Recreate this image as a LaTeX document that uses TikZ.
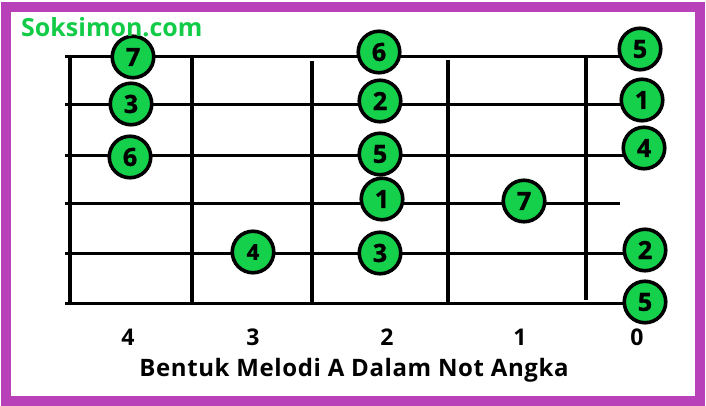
\documentclass[tikz,border=0pt]{standalone}
\usepackage{fontspec}
\setmainfont{Open Sans}
\definecolor{framepurple}{RGB}{184,64,184}
\definecolor{dotgreen}{RGB}{20,208,75}
\definecolor{logogreen}{RGB}{18,204,72}
\tikzset{
  stringline/.style={line width=3pt,black},
  fretline/.style={line width=3.2pt,black},
  dot/.style={circle,draw=black,line width=3.6pt,fill=dotgreen,minimum size=41.5pt,inner sep=0pt,font=\bfseries\fontsize{25}{25}\selectfont\addfontfeatures{FakeBold=1.2}},
  smalldot/.style={dot,font=\bfseries\fontsize{22}{22}\selectfont\addfontfeatures{FakeBold=1.2}},
  fretnum/.style={font=\bfseries\fontsize{23}{23}\selectfont,inner sep=0pt},
}
\begin{document}
\begin{tikzpicture}[x=1pt,y=-1pt]
\useasboundingbox (0,0) rectangle (706,406);
% frame
\draw[framepurple,line width=10pt] (5.5,7.5) rectangle (700,401);
% string end points
\coordinate (l1) at (65,57);  \coordinate (r1) at (625,57);
\coordinate (l2) at (65,105); \coordinate (r2) at (625,105);
\coordinate (l3) at (65,156); \coordinate (r3) at (628,156);
\coordinate (l4) at (65,203); \coordinate (r4) at (620,203);
\coordinate (l5) at (65,253); \coordinate (r5) at (628,253);
\coordinate (l6) at (65,303); \coordinate (r6) at (628,303);
\foreach \i in {1,...,6} {\draw[stringline] (l\i) -- (r\i);}
% frets
\coordinate (f1t) at (70,57);  \coordinate (f1b) at (70,304);
\coordinate (f2t) at (192,57); \coordinate (f2b) at (192,304);
\coordinate (f3t) at (312,61); \coordinate (f3b) at (312,304);
\coordinate (f4t) at (448,60); \coordinate (f4b) at (448,304);
\coordinate (f5t) at (586,57); \coordinate (f5b) at (586,300);
\foreach \i in {1,...,5} {\draw[fretline] (f\i t) -- (f\i b);}
% dots
\node[dot] (a7) at (133,57) {7};
\node[dot] (a3) at (131,104) {3};
\node[dot] (a6) at (130,157) {6};
\node[smalldot] (b4) at (253,252) {4};
\node[dot] (c6) at (379,52) {6};
\node[dot] (c2) at (380,101) {2};
\node[dot] (c5) at (380,154) {5};
\node[dot] (c1) at (382,199) {1};
\node[dot] (c3) at (380,253) {3};
\node[dot] (d7) at (524,201) {7};
\node[dot] (e5) at (640,49) {5};
\node[dot] (e1) at (642,100) {1};
\node[dot] (e4) at (644,148) {4};
\node[dot] (e2) at (645,250) {2};
\node[dot] (e5b) at (645,302) {5};
% fret numbers
\node[fretnum] (n4) at (128,337) {4};
\node[fretnum] (n3) at (253,337) {3};
\node[fretnum] (n2) at (387,337) {2};
\node[fretnum] (n1) at (520,337) {1};
\node[fretnum] (n0) at (637,337) {0};
% texts
\node[font=\bfseries\fontsize{24}{24}\selectfont\addfontfeatures{LetterSpace=2.5},inner sep=0pt] (title) at (354,370) {Bentuk Melodi A Dalam Not Angka};
\node[font=\bfseries\fontsize{25}{25}\selectfont,text=logogreen,inner sep=0pt,anchor=west] (logo) at (21,27) {Soksimon.com};
\end{tikzpicture}
\end{document}
